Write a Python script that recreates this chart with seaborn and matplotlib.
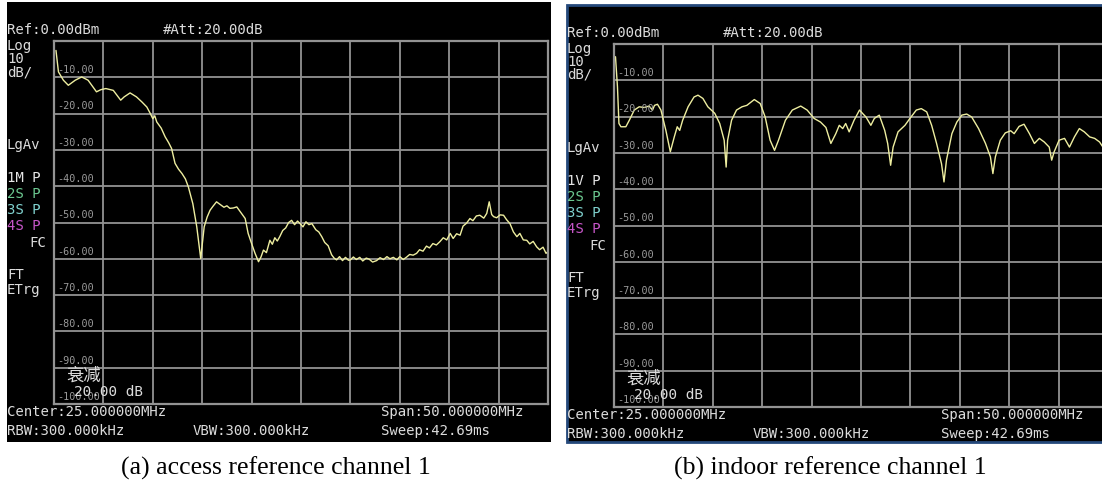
"""Two spectrum analyser screenshots side by side, redrawn with seaborn."""

import matplotlib.pyplot as plt
from matplotlib.patches import Rectangle
import seaborn as sns

sns.set_theme(style="dark")
plt.rcParams["font.family"] = ["DejaVu Sans Mono", "Noto Sans CJK SC"]

W, H = 1102, 488

# trace (a): access reference channel 1, x in grid divisions, y in dBm
access_x = [0.04, 0.09, 0.19, 0.29, 0.36, 0.43, 0.56, 0.69, 0.78, 0.86, 0.95, 1.05,
            1.2, 1.35, 1.42, 1.54, 1.67, 1.78, 1.88, 1.95, 2.0, 2.04, 2.08, 2.17,
            2.25, 2.32, 2.38, 2.45, 2.52, 2.59, 2.66, 2.72, 2.81, 2.89, 2.97, 3.04,
            3.1, 3.16, 3.22, 3.29, 3.36, 3.44, 3.5, 3.56, 3.63, 3.70, 3.78, 3.87,
            3.93, 4.0, 4.07, 4.14, 4.19, 4.24, 4.3, 4.37, 4.42, 4.47, 4.52, 4.57,
            4.63, 4.69, 4.75, 4.81, 4.87, 4.93, 4.98, 5.04, 5.1, 5.16, 5.22, 5.3,
            5.36, 5.42, 5.48, 5.55, 5.62, 5.67, 5.72, 5.78, 5.84, 5.9, 5.96, 6.0,
            6.06, 6.12, 6.19, 6.25, 6.32, 6.38, 6.45, 6.53, 6.6, 6.67, 6.74, 6.8,
            6.87, 6.94, 7.0, 7.07, 7.14, 7.2, 7.27, 7.34, 7.4, 7.47, 7.54, 7.6,
            7.67, 7.74, 7.81, 7.88, 7.95, 8.02, 8.08, 8.15, 8.22, 8.28, 8.35, 8.42,
            8.48, 8.55, 8.62, 8.7, 8.76, 8.81, 8.86, 8.9, 8.96, 9.03, 9.1, 9.16,
            9.23, 9.3, 9.37, 9.43, 9.5, 9.57, 9.63, 9.7, 9.77, 9.83, 9.9, 9.96, 10.0]
access_db = [-2.6, -8.5, -10.8, -12.2, -11.5, -10.8, -9.9, -10.8, -12.5, -14.0, -13.4, -13.1,
             -13.6, -16.3, -15.4, -14.3, -15.4, -16.8, -18.2, -20.0, -21.4, -20.6, -22.3, -24.0,
             -26.4, -28.0, -29.6, -33.7, -35.3, -36.5, -38.0, -40.2, -44.8, -51.2, -59.9, -51.2,
             -48.5, -46.6, -45.5, -44.3, -45.0, -45.8, -45.4, -46.1, -46.0, -45.7, -47.2, -48.9,
             -53.0, -55.8, -58.5, -60.8, -59.5, -57.6, -58.3, -54.9, -56.0, -54.2, -55.1, -53.9,
             -52.2, -51.5, -50.0, -49.4, -50.6, -49.6, -50.3, -51.2, -49.8, -50.6, -50.3, -52.0,
             -52.6, -53.9, -55.5, -56.4, -58.9, -59.8, -60.3, -59.4, -60.5, -59.6, -60.4, -60.3,
             -59.5, -60.2, -59.6, -60.6, -59.8, -60.1, -60.9, -60.5, -59.7, -60.2, -59.4, -60.0,
             -59.6, -60.3, -59.4, -60.2, -59.5, -58.8, -59.0, -58.5, -57.5, -57.9, -56.5, -57.0,
             -55.8, -56.2, -55.3, -54.2, -54.8, -53.0, -54.4, -53.1, -53.5, -51.0, -50.2, -48.9,
             -49.5, -48.2, -48.0, -48.8, -47.5, -44.3, -47.8, -48.4, -48.7, -47.9, -48.0, -49.2,
             -50.3, -52.6, -53.9, -53.0, -54.8, -54.9, -55.9, -55.2, -56.7, -57.5, -56.8, -58.5, -58.0]

# trace (b): indoor reference channel 1
indoor_x = [0.03, 0.07, 0.10, 0.14, 0.24, 0.31, 0.41, 0.51, 0.61, 0.71, 0.78, 0.82,
            0.88, 0.95, 1.05, 1.14, 1.22, 1.28, 1.33, 1.39, 1.50, 1.62, 1.70, 1.80,
            1.90, 2.04, 2.14, 2.23, 2.27, 2.30, 2.38, 2.48, 2.59, 2.69, 2.84, 2.96,
            3.06, 3.16, 3.25, 3.33, 3.47, 3.61, 3.78, 3.91, 4.05, 4.18, 4.29, 4.39,
            4.49, 4.56, 4.63, 4.69, 4.76, 4.86, 4.97, 5.03, 5.10, 5.20, 5.27, 5.37,
            5.48, 5.54, 5.60, 5.65, 5.75, 5.89, 5.99, 6.12, 6.22, 6.33, 6.43, 6.53,
            6.63, 6.68, 6.73, 6.84, 6.94, 7.04, 7.14, 7.24, 7.38, 7.52, 7.62, 7.67,
            7.72, 7.82, 7.92, 8.03, 8.10, 8.20, 8.30, 8.41, 8.51, 8.61, 8.71, 8.81,
            8.86, 8.91, 9.01, 9.12, 9.22, 9.32, 9.42, 9.52, 9.63, 9.73, 9.83, 9.94]
indoor_db = [-3.5, -11.8, -21.9, -22.8, -22.8, -21.0, -18.2, -17.3, -17.5, -17.1, -18.2, -16.9,
             -16.6, -18.2, -23.8, -29.7, -25.6, -22.8, -23.8, -21.0, -17.3, -14.6, -14.1, -15.0,
             -17.3, -19.1, -21.9, -26.5, -33.9, -26.5, -21.0, -18.2, -17.3, -16.9, -15.3, -16.4,
             -20.1, -26.5, -29.3, -26.5, -21.0, -18.2, -17.1, -18.2, -20.5, -21.5, -23.0, -27.4,
             -24.7, -22.4, -23.3, -21.9, -24.2, -21.0, -18.2, -19.1, -20.1, -22.4, -20.5, -19.6,
             -23.8, -27.4, -33.4, -28.4, -24.2, -22.4, -20.5, -18.2, -17.8, -18.7, -22.4, -27.4,
             -33.0, -38.0, -32.0, -24.7, -21.5, -19.6, -19.3, -20.1, -23.3, -27.4, -31.1, -35.7,
             -31.1, -26.5, -24.5, -23.9, -24.7, -22.7, -22.1, -24.7, -27.4, -26.0, -27.0, -28.4,
             -32.0, -29.7, -26.5, -26.0, -28.4, -25.6, -23.3, -24.2, -25.6, -26.0, -27.0, -29.3]

grid_levels = [-10, -20, -30, -40, -50, -60, -70, -80, -90, -100]
captions = ["(a) access reference channel 1", "(b) indoor reference channel 1"]
marker_labels = [["1M P", "2S P", "3S P", "4S P"], ["1V P", "2S P", "3S P", "4S P"]]
marker_colors = ["#e6e6e6", "#6cc890", "#80d2cf", "#c656c8"]

TEXT = "#dcdcdc"
GRID = "#939393"
TRACE = "#eeeea0"


def fx(x):
    return x / W


def fy(y):
    return 1 - y / H


def label(fig, x, y, s, **kw):
    kw.setdefault("color", TEXT)
    kw.setdefault("fontsize", 10.1)
    fig.text(fx(x), fy(y), s, va="center", ha=kw.pop("ha", "left"), **kw)


def draw_panel(fig, dx, dy, panel_w, xs, ys, markers, border=None):
    fig.patches.append(Rectangle((fx(7 + dx), fy(442)), fx(panel_w), fy(2 + dy) - fy(442),
                                 transform=fig.transFigure, facecolor="black",
                                 edgecolor=border or "black", linewidth=2 if border else 0,
                                 zorder=-10))

    ax = fig.add_axes([fx(54 + dx), fy(404 + dy), fx(494), fy(41 + dy) - fy(404 + dy)])
    ax.set_zorder(5)
    ax.set_facecolor("black")
    sns.lineplot(x=xs, y=ys, ax=ax, color=TRACE, linewidth=1.0, estimator=None)
    ax.set_xlim(0, 10)
    ax.set_ylim(-100, 0)
    ax.set_xticks(range(11))
    ax.set_yticks(range(-100, 1, 10))
    ax.grid(True, color=GRID, linewidth=1.3)
    ax.tick_params(length=0, labelleft=False, labelbottom=False)
    for spine in ax.spines.values():
        spine.set_color(GRID)
        spine.set_linewidth(1.6)
    for level in grid_levels:
        ax.text(0.06, level + 0.6, f"{level:.2f}", color="#9a9a9a", fontsize=7.3,
                va="bottom", ha="left")

    label(fig, 7 + dx, 30 + dy, "Ref:0.00dBm")
    label(fig, 163 + dx, 30 + dy, "#Att:20.00dB")
    for text, y in zip(["Log", "10", "dB/", "LgAv"], [46, 59, 72, 145]):
        label(fig, 7 + dx, y + dy, text)
    for text, color, y in zip(markers, marker_colors, [178, 194, 210, 226]):
        label(fig, 7 + dx, y + dy, text, color=color)
    label(fig, 46 + dx, 243 + dy, "FC", ha="right")
    label(fig, 7 + dx, 275 + dy, "FT")
    label(fig, 7 + dx, 290 + dy, "ETrg")
    label(fig, 66 + dx, 376 + dy, "衰减", fontsize=12.5, zorder=10,
          family=["Noto Sans CJK SC", "DejaVu Sans"])
    label(fig, 74 + dx, 392 + dy, "20.00 dB", zorder=10, fontsize=10.4)
    label(fig, 7 + dx, 412 + dy, "Center:25.000000MHz")
    label(fig, 7 + dx, 431 + dy, "RBW:300.000kHz")
    label(fig, 193 + dx, 431 + dy, "VBW:300.000kHz")
    label(fig, 381 + dx, 412 + dy, "Span:50.000000MHz")
    label(fig, 381 + dx, 431 + dy, "Sweep:42.69ms")
    return ax


fig = plt.figure(figsize=(W / 100, H / 100), dpi=100, facecolor="white")
draw_panel(fig, 0, 0, 544, access_x, access_db, marker_labels[0])
draw_panel(fig, 560, 3, 545, indoor_x, indoor_db, marker_labels[1], border="#24487a")

for text, cx in zip(captions, [276, 830]):
    fig.text(fx(cx), fy(468), text, ha="center", va="center", fontsize=18.5,
             family="Liberation Serif", color="black")

fig.savefig("out.png", dpi=100)
plt.close(fig)
